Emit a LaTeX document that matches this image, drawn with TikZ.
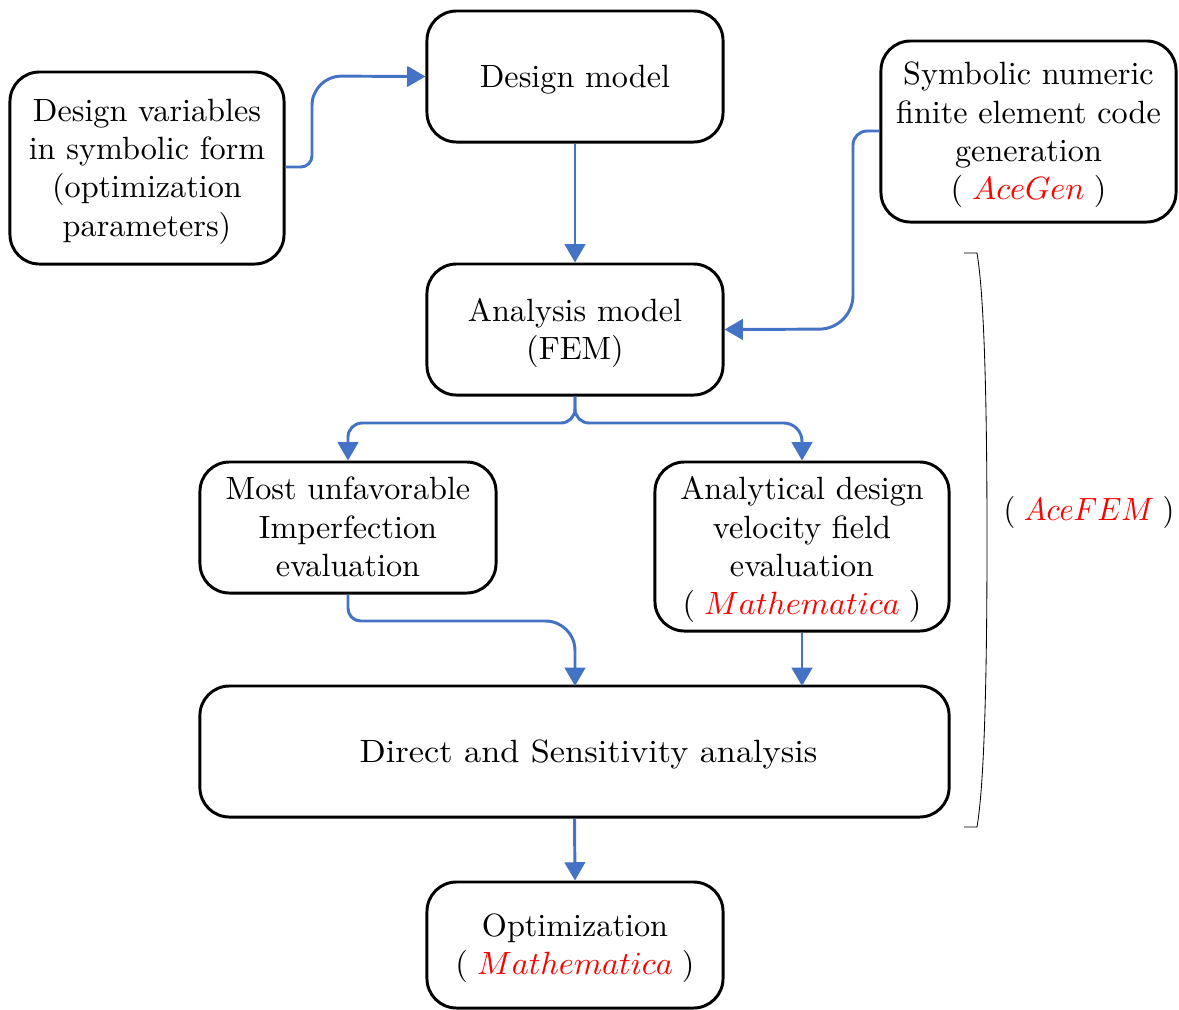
\documentclass[tikz,border=0pt]{standalone}
\usepackage{graphicx}
\usetikzlibrary{arrows.meta}
\definecolor{flowblue}{RGB}{68,114,196}
\definecolor{tagred}{RGB}{255,0,0}
% red tool name in parentheses
\newcommand{\tool}[1]{(\hspace{0.28em}{\color{tagred}$#1$}\hspace{0.28em})}
% centred text block in the 10pt design, enlarged and set slightly low
\newsavebox{\lblbox}
\newcommand{\btextxy}[3]{\sbox{\lblbox}{\scalebox{#1}[#2]{\fontsize{10}{11.9}\selectfont
  \begin{tabular}{@{}c@{}}#3\end{tabular}}}%
  \raisebox{-2.2pt}[\ht\lblbox][\dp\lblbox]{\usebox{\lblbox}}}
\newcommand{\btext}[1]{\btextxy{2.29}{2.29}{#1}}
\begin{document}
\begin{tikzpicture}[x=0.025cm,y=-0.025cm,
  box/.style={draw=black, line width=2.1pt, rounded corners=21pt, align=center,
    inner sep=0pt},
  flow/.style={draw=flowblue, line width=2.1pt,
    -{Triangle[length=13pt,width=14.5pt]}}]
\useasboundingbox (0,0) rectangle (1179,1009);

% boxes
\node[box, minimum width=6.85cm, minimum height=4.8cm] (dv) at (147,168)
  {\btext{Design variables\\in symbolic form\\(optimization\\parameters)}};
\node[box, minimum width=7.4cm, minimum height=3.275cm] (dm) at (575,76.5)
  {\btext{Design model}};
\node[box, minimum width=7.375cm, minimum height=4.525cm] (sym) at (1028.5,131.5)
  {\btext{Symbolic numeric\\finite element code\\generation\\\tool{AceGen}}};
\node[box, minimum width=7.4cm, minimum height=3.275cm] (an) at (575,329.5)
  {\btext{Analysis model\\(FEM)}};
\node[box, minimum width=7.4cm, minimum height=3.275cm] (mu) at (348,527.5)
  {\btext{Most unfavorable\\Imperfection\\evaluation}};
\node[box, minimum width=7.35cm, minimum height=4.225cm] (av) at (802,546.5)
  {\btext{Analytical design\\velocity field\\evaluation\\\tool{Mathematica}}};
\node[box, minimum width=18.725cm, minimum height=3.275cm] (ds) at (574.5,751.5)
  {\hspace{20pt}\btextxy{2.44}{2.29}{Direct and Sensitivity analysis}};
\node[box, minimum width=7.4cm, minimum height=3.15cm] (opt) at (575,945)
  {\btext{Optimization\\\tool{Mathematica}}};

% connectors
\coordinate (dvout) at (dv.east |- 0,167);
\draw[flow] (dvout) [rounded corners=8pt] -- (312,167)
  [rounded corners=21pt] -- (312,76) -- (dm.west);
\draw[flow] (dm.south) -- (an.north);
\coordinate (symout) at (sym.west |- 0,131);
\draw[flow] (symout) [rounded corners=10pt] -- (853,131)
  [rounded corners=24pt] -- (853,329) -- (an.east);
\draw[flow] (an.south) [rounded corners=10pt] -- (575,423)
  -- (mu.north |- 0,423) -- (mu.north);
\draw[flow] (an.south) [rounded corners=10pt] -- (575,423)
  [rounded corners=13pt] -- (av.north |- 0,423) -- (av.north);
\coordinate (dsin) at (575,686);
\draw[flow] (mu.south) [rounded corners=9pt] -- (348,621)
  [rounded corners=21pt] -- (575,621) -- (dsin);
\coordinate (dsin2) at (802,686);
\draw[flow] (av.south) -- (dsin2);
\draw[flow] (ds.south) -- (opt.north);

% bracket around the FEM stages
\coordinate (bt) at (964,253);
\coordinate (bb) at (964,827);
\draw[line width=0.6pt] (bt) -- (977,253)
  .. controls (985,300) and (987,420) .. (987,540)
  .. controls (987,660) and (985,780) .. (977,827) -- (bb);
\node[inner sep=0pt] (fem) at (1089,510) {\btextxy{2.15}{2.29}{\tool{AceFEM}}};
\end{tikzpicture}
\end{document}
